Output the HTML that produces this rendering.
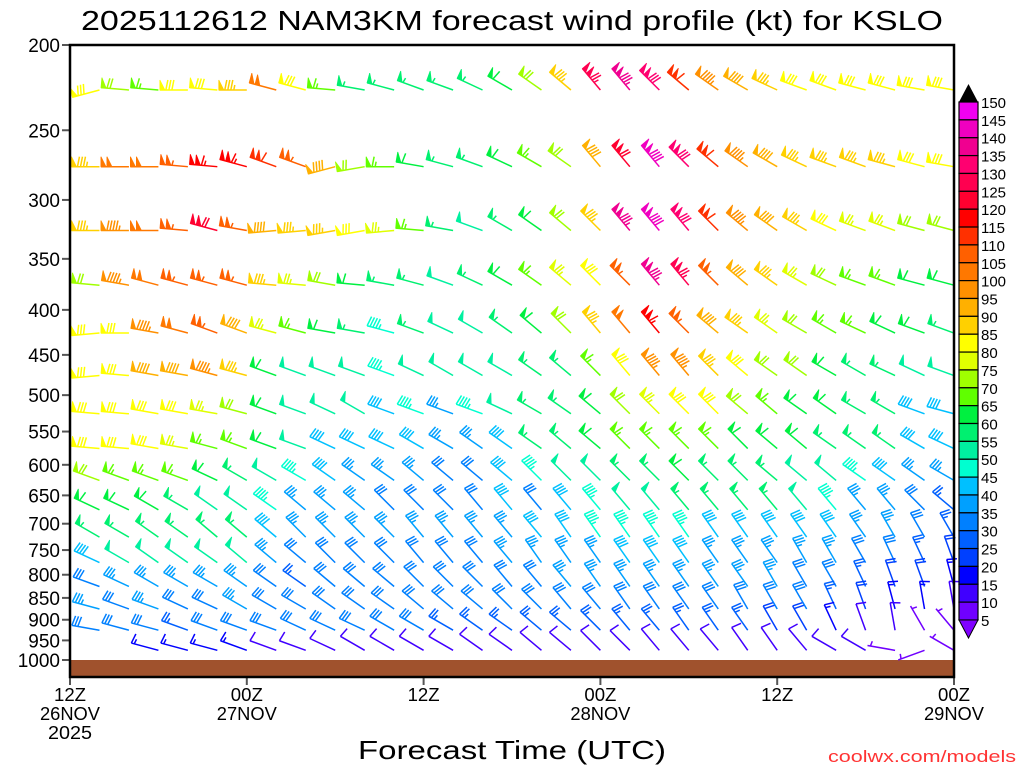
<!DOCTYPE html>
<html><head><meta charset="utf-8"><title>NAM3KM wind profile KSLO</title>
<style>
html,body{margin:0;padding:0;background:#fff;}
svg{display:block;font-family:"Liberation Sans",sans-serif;}
</style></head>
<body>
<svg id="chart" width="1024" height="768" viewBox="0 0 1024 768" xmlns="http://www.w3.org/2000/svg">
<rect x="0" y="0" width="1024" height="768" fill="#fff"/>
<text x="512" y="30" text-anchor="middle" font-size="28" textLength="862" lengthAdjust="spacingAndGlyphs" fill="#000">2025112612 NAM3KM forecast wind profile (kt) for KSLO</text>
<g id="ground"></g>
<g id="barbs"></g>
<g id="yaxis"></g>
<g id="xaxis"></g>
<rect x="70" y="45" width="884" height="632" fill="none" stroke="#000" stroke-width="2.5"/>
<g id="cbar"></g>
<text x="512" y="759" text-anchor="middle" font-size="26" textLength="308" lengthAdjust="spacingAndGlyphs" fill="#000">Forecast Time (UTC)</text>
<text x="1016" y="762" text-anchor="end" font-size="17" textLength="188" lengthAdjust="spacingAndGlyphs" fill="#ff3333">coolwx.com/models</text>
</svg>
<script>
const levels=[225,275,325,375,425,475,525,575,625,675,725,775,825,875,925,975];
const hours=[2,4,6,8,10,12,14,16,18,20,22,24,26,28,30,32,34,36,38,40,42,44,46,48,50,52,54,56,58,60];
const yTicks=[200,250,300,350,400,450,500,550,600,650,700,750,800,850,900,950,1000];
const xTickHours=[0,12,24,36,48,60];
const xTickLabels=[["12Z","26NOV","2025"],["00Z","27NOV"],["12Z"],["00Z","28NOV"],["12Z"],["00Z","29NOV"]];
const cbarValues=[150,145,140,135,130,125,120,115,110,105,100,95,90,85,80,75,70,65,60,55,50,45,40,35,30,25,20,15,10,5];
const cbarColors=["#f000f0","#f000c0","#f00090","#ff0070","#ff0050","#ff0030","#ff0000","#ff3000","#ff6000","#ff7800","#ff9000","#ffb000","#ffd000","#ffff00","#e0ff00","#a0ff00","#60ff00","#00f040","#00f070","#00f0a0","#00ffd0","#00c0ff","#00a0ff","#0080ff","#0060ff","#0040ff","#0000ff","#4000ff","#7000ff"];

const spd225=[80,70,65,80,80,85,100,80,65,55,55,55,55,55,60,70,85,125,135,130,110,95,90,85,80,80,80,80,80,80];
const spd275=[85,100,100,105,115,115,110,105,90,70,65,60,55,55,60,65,70,90,120,140,130,110,95,90,85,85,85,85,80,80];
const spd325=[85,95,100,105,120,105,90,85,85,80,75,65,55,50,55,60,70,85,135,140,130,110,95,90,85,80,75,75,70,70];
const spd375=[70,95,100,105,105,105,85,75,70,60,55,55,50,55,60,65,75,80,105,135,125,105,90,85,75,70,65,65,60,60];
const spd425=[80,80,95,100,105,90,75,65,60,55,45,55,50,50,55,60,70,85,100,115,105,90,85,75,70,65,65,60,60,55];
const spd475=[80,80,90,90,95,85,60,50,50,50,45,50,50,50,50,55,55,65,80,95,95,85,80,70,70,60,55,55,50,50];
const spd525=[80,80,80,80,75,70,60,50,50,50,40,45,35,45,50,55,55,60,70,75,80,80,70,65,60,60,55,55,40,40];
const spd575=[80,80,80,75,65,65,60,50,40,40,40,40,35,35,40,55,55,60,65,65,65,65,60,60,60,55,55,55,40,40];
const spd625=[70,65,65,65,60,55,50,45,40,35,35,35,30,30,40,45,50,50,55,55,60,55,55,55,50,50,45,40,35,35];
const spd675=[60,60,60,55,50,50,45,35,35,35,30,30,30,30,40,30,40,45,50,50,55,55,55,55,50,45,35,35,30,25];
const spd725=[55,55,55,55,55,55,40,35,35,35,35,35,35,35,35,40,40,45,45,45,45,40,40,40,40,40,35,35,30,25];
const spd775=[40,50,50,50,50,50,35,30,30,30,30,30,30,30,35,35,35,35,40,40,40,35,35,35,35,35,30,30,25,20];
const spd825=[30,35,35,35,35,35,30,25,30,30,30,30,30,30,30,30,35,35,35,35,35,35,35,35,30,30,25,20,20,15];
const spd875=[35,30,35,30,30,35,30,30,30,30,30,30,30,30,30,30,30,30,30,30,30,30,30,30,30,25,20,15,15,10];
const spd925=[30,30,30,25,30,30,30,30,30,30,30,30,25,25,25,25,25,25,25,25,25,25,25,20,20,15,10,10,5,5];
const spd975=[null,null,15,15,15,15,10,10,10,10,10,10,10,10,10,10,10,10,10,10,10,10,10,10,10,10,10,5,5,5];

const dir225=[255,275,275,270,275,270,285,285,275,280,285,290,290,295,300,305,310,320,320,315,310,305,300,295,290,290,285,285,280,280];
const dir275=[270,270,270,275,275,285,290,290,255,260,270,280,285,290,295,300,305,320,320,320,315,310,305,300,295,290,290,285,285,280];
const dir325=[270,270,270,275,285,280,265,265,260,260,265,275,280,290,300,305,310,315,320,320,320,315,310,305,300,295,290,290,285,285];
const dir375=[275,280,285,285,285,285,275,275,280,275,280,285,290,295,300,305,310,315,315,320,320,315,310,305,300,295,290,290,285,285];
const dir425=[265,270,280,285,290,290,285,285,280,280,285,290,295,300,305,310,315,320,320,320,315,310,305,305,300,300,295,295,290,290];
const dir475=[265,275,280,280,285,285,290,290,290,290,290,295,300,300,300,305,310,315,320,320,320,315,310,305,305,300,300,295,295,290];
const dir525=[275,275,280,280,280,285,290,290,295,300,290,290,290,290,295,300,305,310,315,315,315,315,310,310,305,305,300,300,290,285];
const dir575=[275,275,280,280,285,290,290,290,295,295,295,300,300,305,305,305,310,310,315,315,315,315,315,310,310,305,305,305,300,295];
const dir625=[290,290,290,290,295,300,300,300,305,305,305,310,310,310,310,315,315,315,315,315,315,315,315,310,310,310,305,305,305,300];
const dir675=[295,295,300,300,305,305,305,310,310,310,315,315,315,320,320,320,320,320,320,320,320,320,320,320,320,320,320,320,315,310];
const dir725=[300,300,305,305,310,310,310,315,315,315,315,320,320,320,320,320,325,325,325,325,325,325,325,325,325,325,325,330,330,330];
const dir775=[295,300,305,305,305,310,310,310,315,315,315,320,320,320,320,325,325,325,325,325,325,325,325,325,330,330,330,335,335,340];
const dir825=[290,295,300,300,300,305,305,305,310,310,310,315,315,315,320,320,320,325,325,325,325,325,325,330,330,330,335,340,340,345];
const dir875=[285,290,290,295,295,300,300,300,305,305,305,310,310,310,315,315,320,320,325,325,325,325,330,330,330,335,340,345,350,350];
const dir925=[280,285,285,290,290,290,290,295,295,295,300,300,300,305,305,310,310,315,320,320,325,325,325,330,330,335,340,350,330,320];
const dir975=[0,0,285,285,285,290,290,290,295,300,300,300,300,305,305,310,310,315,315,320,320,320,325,325,320,300,300,280,250,300];

const speedRows=[spd225,spd275,spd325,spd375,spd425,spd475,spd525,spd575,spd625,spd675,spd725,spd775,spd825,spd875,spd925,spd975];
const dirRows=[dir225,dir275,dir325,dir375,dir425,dir475,dir525,dir575,dir625,dir675,dir725,dir775,dir825,dir875,dir925,dir975];

const SVGNS="http://www.w3.org/2000/svg";
const PX0=70,PX1=954,PY0=45,PY1=660;
function xScale(h){return PX0+(PX1-PX0)*h/60;}
function yScale(p){return PY0+(PY1-PY0)*Math.log(p/200)/Math.log(1000/200);}
function mk(tag,attrs,parent){const e=document.createElementNS(SVGNS,tag);for(const k in attrs)e.setAttribute(k,attrs[k]);parent.appendChild(e);return e;}
function colorFor(s){let i=Math.floor((s-5)/5);if(i<0)i=0;if(i>28)i=28;return cbarColors[28-i];}

const groundG=document.getElementById('ground');
const groundRect=mk('rect',{x:PX0,y:yScale(1000),width:PX1-PX0,height:677-yScale(1000),fill:'#a0522d'},groundG);



const barbG=document.getElementById('barbs');
function drawBarb(sx,sy,spd,dir,col){
  const grp=mk('g',{stroke:col,fill:col,'stroke-width':1.5,'stroke-linecap':'butt'},barbG);
  
  
  const r=dir*Math.PI/180,ux=Math.sin(r),uy=-Math.cos(r),L=28;
  const tx=sx+ux*L,ty=sy+uy*L;
  mk('line',{x1:sx,y1:sy,x2:tx,y2:ty},grp);
  const px=-uy,py=ux;
  let s=Math.round(spd/5)*5;
  const n50=Math.floor(s/50);s-=n50*50;const n10=Math.floor(s/10);s-=n10*10;const n5=s>=5?1:0;
  let pos=0;
  for(let i=0;i<n50;i++){
    const bx=tx-ux*pos,by=ty-uy*pos,cx=tx-ux*(pos+5),cy=ty-uy*(pos+5);
    mk('polygon',{points:`${bx},${by} ${cx},${cy} ${bx+px*10},${by+py*10}`,'stroke-width':0.8},grp);
    pos+=6;
  }
  for(let i=0;i<n10;i++){
    const bx=tx-ux*pos,by=ty-uy*pos;
    mk('line',{x1:bx,y1:by,x2:bx+px*10-ux*2,y2:by+py*10-uy*2},grp);
    pos+=3;
  }
  if(n5){
    if(pos===0)pos=3;
    const bx=tx-ux*pos,by=ty-uy*pos;
    mk('line',{x1:bx,y1:by,x2:bx+px*5-ux*1,y2:by+py*5-uy*1},grp);
  }
}
levels.forEach((p,li)=>{
  hours.forEach((h,hi)=>{
    const s=speedRows[li][hi];
    if(s===null||s===undefined)return;
    drawBarb(xScale(h),yScale(p),s,dirRows[li][hi],colorFor(s));
  });
});

const yAxisG=document.getElementById('yaxis');
yTicks.forEach(p=>{
  const y=yScale(p);
  const t=mk('line',{x1:62,y1:y,x2:70,y2:y,stroke:'#555','stroke-width':2},yAxisG);
  
  
  const tx=mk('text',{x:60,y:y+7,'text-anchor':'end','font-size':19,fill:'#000'},yAxisG);
  tx.textContent=String(p);
  
  
});

const xAxisG=document.getElementById('xaxis');
xTickHours.forEach((h,i)=>{
  const x=xScale(h);
  const t=mk('line',{x1:x,y1:677,x2:x,y2:685,stroke:'#555','stroke-width':2},xAxisG);
  
  
  xTickLabels[i].forEach((lab,j)=>{
    const tx=mk('text',{x:x,y:701+j*19,'text-anchor':'middle','font-size':18,fill:'#000',textLength:lab.length===3?32:(lab.length===4?44:60),lengthAdjust:'spacingAndGlyphs'},xAxisG);
    tx.textContent=lab;
    
    
  });
});

const cbarG=document.getElementById('cbar');
const CBT=102,CBB=620,CBX=959,CBW=19,cbh=(CBB-CBT)/29;
const cbTopArrow=mk('polygon',{points:`${CBX},${CBT} ${CBX+CBW},${CBT} ${CBX+CBW/2},${CBT-18}`,fill:'#000'},cbarG);


cbarColors.forEach((c,i)=>{
  const r=mk('rect',{x:CBX,y:CBT+i*cbh,width:CBW,height:cbh,fill:c,stroke:'#000','stroke-width':1.2},cbarG);
  
  
});
const cbBotArrow=mk('polygon',{points:`${CBX},${CBB} ${CBX+CBW},${CBB} ${CBX+CBW/2},${CBB+18}`,fill:'#8000ff',stroke:'#000','stroke-width':1},cbarG);


cbarValues.forEach((v,i)=>{
  const t=mk('text',{x:981,y:CBT+i*cbh+6,'font-size':15,fill:'#000'},cbarG);
  t.textContent=String(v);
  
  
});
</script>
</body></html>
